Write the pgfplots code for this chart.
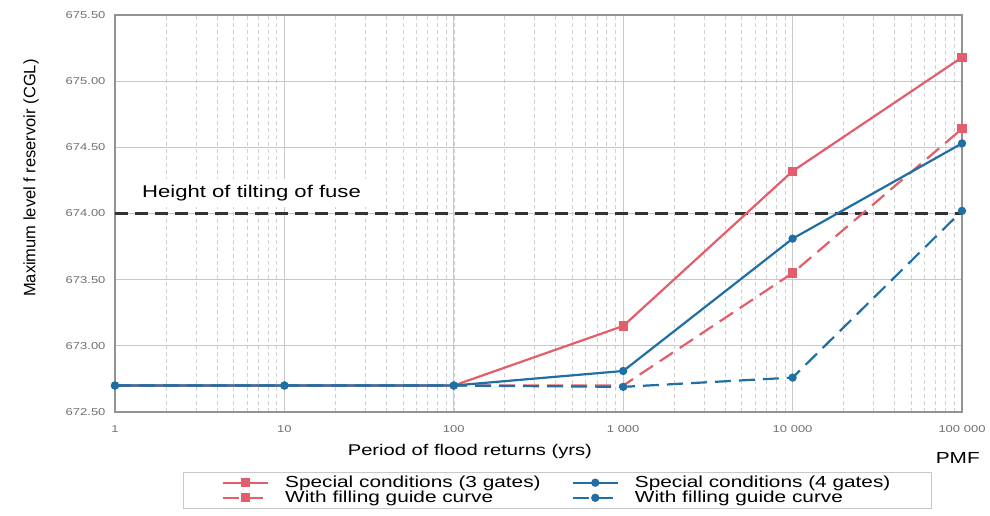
\documentclass[border=0pt]{standalone}
\usepackage{fontspec}
\setmainfont[FakeStretch=1.3]{Liberation Sans}
\newfontfamily\plainfont{Liberation Sans}
\usepackage{pgfplots}
\pgfplotsset{compat=1.18}
\definecolor{cred}{HTML}{E35D6A}
\definecolor{cblue}{HTML}{1F6FA5}
\definecolor{gridc}{HTML}{C8C8C8}
\definecolor{tickc}{HTML}{707070}
\begin{document}
\begin{tikzpicture}
\begin{axis}[
  scale only axis, width=847pt, height=397pt,
  xmode=log, xmin=1, xmax=100000, ymin=672.5, ymax=675.5,
  xtick={1,10,100,1000,10000,100000},
  xticklabels={1,10,100,1 000,10 000,100 000},
  ytick={672.5,673,673.5,674,674.5,675,675.5},
  ticklabel style={font=\fontsize{10}{12}\selectfont, color=tickc},
  xticklabel style={yshift=-10pt},
  yticklabel style={xshift=-6pt, /pgf/number format/.cd, fixed, fixed zerofill, precision=2, assume math mode=true},
  xmajorgrids, ymajorgrids, xminorgrids,
  minor grid style={gridc!85, dash pattern=on 4pt off 3pt, line width=0.6pt},
  major grid style={gridc, line width=0.9pt},
  axis line style={color=gray!85, line width=1.1pt},
  major tick length=0pt, minor tick length=0pt,
  xlabel={Period of flood returns (yrs)},
  xlabel style={at={(axis description cs:0.419,-0.1)}, anchor=center, font=\fontsize{15.5}{18}\selectfont},
  ylabel={\plainfont Maximum level f reservoir (CGL)},
  ylabel style={at={(axis description cs:-0.099,0.589)}, anchor=center, font=\fontsize{16.5}{18}\selectfont},
  clip=false,
  legend columns=2, transpose legend,
  legend cell align=left,
  legend style={at={(axis description cs:0.080,-0.151)}, anchor=north west,
    draw=gridc, font=\fontsize{16}{16}\selectfont, inner xsep=39pt, inner ysep=2pt,
    row sep=-2pt,
    /tikz/every odd column/.append style={column sep=14pt},
    /tikz/every even column/.append style={column sep=29pt}},
  legend image code/.code={\draw[mark indices={2}] plot coordinates {(0pt,0pt) (22.5pt,0pt) (45pt,0pt)};},
]
\addplot[forget plot, color=black!80, line width=2.2pt, dash pattern=on 13pt off 7pt] coordinates {(1,674) (100000,674)};
\addplot[cred, line width=2.2pt, mark=square*, mark size=3.5pt, mark options={solid}, mark indices={4,5,6}] coordinates {(1,672.70)(10,672.70)(100,672.70)(1000,673.15)(10000,674.32)(100000,675.18)};
\addlegendentry{Special conditions (3 gates)}
\addplot[cred, line width=2.2pt, dash pattern=on 16pt off 8pt, mark=square*, mark size=3.5pt, mark options={solid}, mark indices={5,6}] coordinates {(1,672.70)(10,672.70)(100,672.70)(1000,672.70)(10000,673.55)(100000,674.64)};
\addlegendentry{With filling guide curve}
\addplot[cblue, line width=2.2pt, mark=*, mark size=3pt, mark options={solid}] coordinates {(1,672.70)(10,672.70)(100,672.70)(1000,672.81)(10000,673.81)(100000,674.53)};
\addlegendentry{Special conditions (4 gates)}
\addplot[cblue, line width=2.2pt, dash pattern=on 16pt off 8pt, mark=*, mark size=3pt, mark options={solid}] coordinates {(1,672.70)(10,672.70)(100,672.70)(1000,672.69)(10000,672.76)(100000,674.02)};
\addlegendentry{With filling guide curve}
\node[anchor=west, fill=white, inner xsep=17pt, inner ysep=6pt, font=\fontsize{17}{19}\selectfont] at (axis description cs:0.0118,0.552) {Height of tilting of fuse};
\node[anchor=center, font=\fontsize{16}{18}\selectfont] at (axis description cs:0.995,-0.116) {PMF};
\end{axis}
\path (current axis.south west) ++(-115pt,-104pt) rectangle ([shift={(28pt,15pt)}]current axis.north east);
\end{tikzpicture}
\end{document}
